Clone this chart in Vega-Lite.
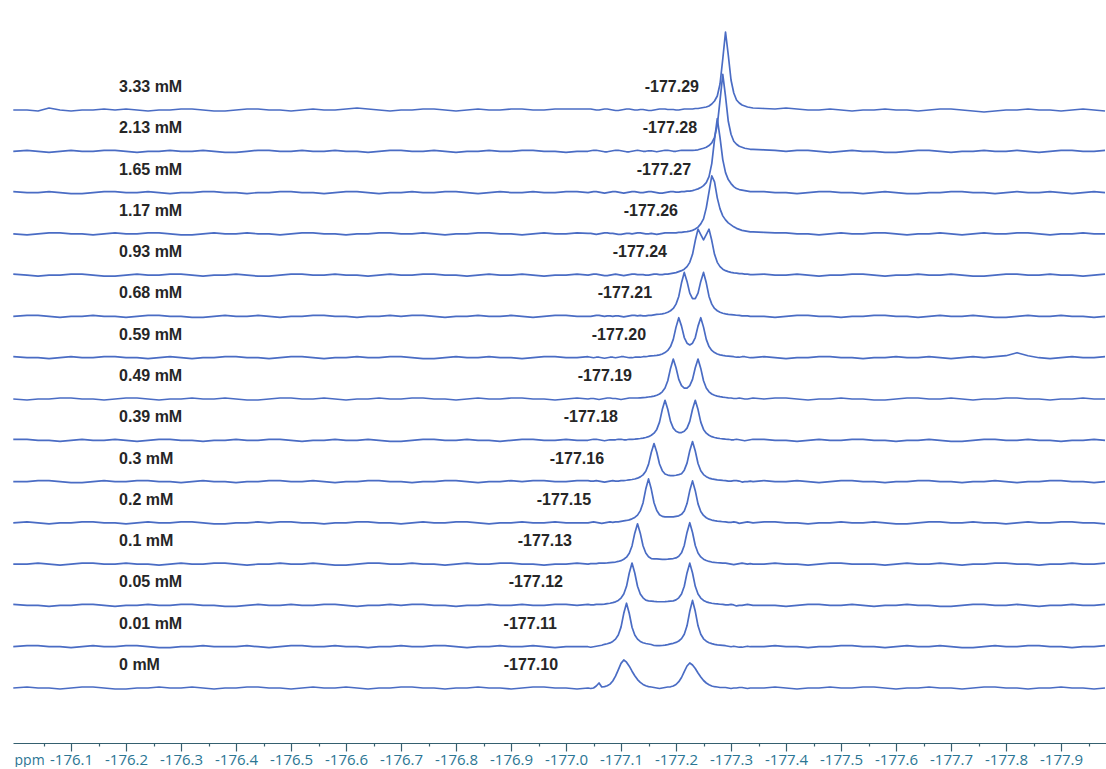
{
"$schema": "https://vega.github.io/schema/vega-lite/v6.json",
"width": 1094,
"height": 723,
"padding": {"left": 12, "top": 20, "right": 0, "bottom": 0},
"background": "#ffffff",
"config": {"view": {"stroke": null}},
"resolve": {"axis": {"x": "independent"}},
"datasets": {
"xs": [
{"i":1,"x":-175.995},{"i":2,"x":-176.02},{"i":3,"x":-176.04},{"i":4,"x":-176.06},{"i":5,"x":-176.08},{"i":6,"x":-176.1},{"i":7,"x":-176.12},{"i":8,"x":-176.14},{"i":9,"x":-176.16},{"i":10,"x":-176.18},
{"i":11,"x":-176.2},{"i":12,"x":-176.22},{"i":13,"x":-176.24},{"i":14,"x":-176.26},{"i":15,"x":-176.28},{"i":16,"x":-176.3},{"i":17,"x":-176.32},{"i":18,"x":-176.34},{"i":19,"x":-176.36},{"i":20,"x":-176.38},
{"i":21,"x":-176.4},{"i":22,"x":-176.42},{"i":23,"x":-176.44},{"i":24,"x":-176.46},{"i":25,"x":-176.48},{"i":26,"x":-176.5},{"i":27,"x":-176.52},{"i":28,"x":-176.54},{"i":29,"x":-176.56},{"i":30,"x":-176.58},
{"i":31,"x":-176.6},{"i":32,"x":-176.62},{"i":33,"x":-176.64},{"i":34,"x":-176.66},{"i":35,"x":-176.68},{"i":36,"x":-176.7},{"i":37,"x":-176.72},{"i":38,"x":-176.74},{"i":39,"x":-176.76},{"i":40,"x":-176.78},
{"i":41,"x":-176.8},{"i":42,"x":-176.82},{"i":43,"x":-176.84},{"i":44,"x":-176.86},{"i":45,"x":-176.88},{"i":46,"x":-176.9},{"i":47,"x":-176.92},{"i":48,"x":-176.94},{"i":49,"x":-176.96},{"i":50,"x":-176.98},
{"i":51,"x":-177.0},{"i":52,"x":-177.02},{"i":53,"x":-177.04},{"i":54,"x":-177.045},{"i":55,"x":-177.05},{"i":56,"x":-177.055},{"i":57,"x":-177.06},{"i":58,"x":-177.065},{"i":59,"x":-177.07},{"i":60,"x":-177.075},
{"i":61,"x":-177.08},{"i":62,"x":-177.085},{"i":63,"x":-177.09},{"i":64,"x":-177.095},{"i":65,"x":-177.1},{"i":66,"x":-177.105},{"i":67,"x":-177.11},{"i":68,"x":-177.115},{"i":69,"x":-177.12},{"i":70,"x":-177.125},
{"i":71,"x":-177.13},{"i":72,"x":-177.135},{"i":73,"x":-177.14},{"i":74,"x":-177.145},{"i":75,"x":-177.15},{"i":76,"x":-177.155},{"i":77,"x":-177.16},{"i":78,"x":-177.165},{"i":79,"x":-177.17},{"i":80,"x":-177.175},
{"i":81,"x":-177.18},{"i":82,"x":-177.185},{"i":83,"x":-177.19},{"i":84,"x":-177.195},{"i":85,"x":-177.2},{"i":86,"x":-177.205},{"i":87,"x":-177.21},{"i":88,"x":-177.215},{"i":89,"x":-177.22},{"i":90,"x":-177.225},
{"i":91,"x":-177.23},{"i":92,"x":-177.235},{"i":93,"x":-177.24},{"i":94,"x":-177.245},{"i":95,"x":-177.25},{"i":96,"x":-177.255},{"i":97,"x":-177.26},{"i":98,"x":-177.265},{"i":99,"x":-177.27},{"i":100,"x":-177.275},
{"i":101,"x":-177.28},{"i":102,"x":-177.285},{"i":103,"x":-177.29},{"i":104,"x":-177.295},{"i":105,"x":-177.3},{"i":106,"x":-177.305},{"i":107,"x":-177.31},{"i":108,"x":-177.315},{"i":109,"x":-177.32},{"i":110,"x":-177.325},
{"i":111,"x":-177.33},{"i":112,"x":-177.335},{"i":113,"x":-177.34},{"i":114,"x":-177.36},{"i":115,"x":-177.38},{"i":116,"x":-177.4},{"i":117,"x":-177.42},{"i":118,"x":-177.44},{"i":119,"x":-177.46},{"i":120,"x":-177.48},
{"i":121,"x":-177.5},{"i":122,"x":-177.52},{"i":123,"x":-177.54},{"i":124,"x":-177.56},{"i":125,"x":-177.58},{"i":126,"x":-177.6},{"i":127,"x":-177.62},{"i":128,"x":-177.64},{"i":129,"x":-177.66},{"i":130,"x":-177.68},
{"i":131,"x":-177.7},{"i":132,"x":-177.72},{"i":133,"x":-177.74},{"i":134,"x":-177.76},{"i":135,"x":-177.78},{"i":136,"x":-177.8},{"i":137,"x":-177.82},{"i":138,"x":-177.84},{"i":139,"x":-177.86},{"i":140,"x":-177.88},
{"i":141,"x":-177.9},{"i":142,"x":-177.92},{"i":143,"x":-177.94},{"i":144,"x":-177.96},{"i":145,"x":-177.98}
],
"spec": [
{"k":"c0","v":[0,0,-1,2,0,-1,0,0,1,0,1,0,-1,0,0,1,1,0,-1,-1,0,1,1,0,0,-1,0,1,0,0,1,2,1,0,-1,0,0,1,1,0,-1,0,1,0,0,1,1,0,0,1,1,1,
1,1,0.5,0,0,0.5,1,1,0.5,0,-0.5,-0.5,0,0.5,1,1,0.5,0,0,0.5,0.5,0,-0.5,-0.5,0,0.5,1,1,1,0.5,0.5,0.5,0,0,0.5,1,1,1,1,1.5,1.5,2,2.5,3,4,6,9,14,26,51,78,55,30,17,10,7,5,4,3,2.5,2,
1.5,1,2,1,0,0,1,0,-1,0,0,1,0,0,-1,0,1,1,0,-1,-2,-1,0,0,1,0,0,-1,0,1,0,-1]},
{"k":"c1","v":[0,1,0,-1,0,1,0,0,1,1,0,-1,0,0,1,0,0,1,0,-1,-1,0,1,1,0,0,1,0,0,1,0,0,-1,0,1,1,0,0,1,0,-1,0,0,1,0,0,1,1,0,0,-1,0,
0,0.5,1,1,0.5,0,-0.5,-0.5,0,0.5,1,1,0.5,0,-0.5,-0.5,0,0.5,1,0.5,0,0,0.5,0.5,0,-0.5,0,0.5,1,1,0.5,0,0,0.5,1,1,1,1,1,1.2,1.5,2.3,3,4,5.7,8.5,14,26,51,77,55,30,17,10,7,5,4,3,2.5,2,2,
1.5,1,0,1,1,0,-1,0,1,0,0,-1,-1,0,1,1,0,-1,0,0,1,0,0,1,0,-1,0,1,1,0,0,1]},
{"k":"c2","v":[1,0,0,1,0,-1,-1,0,1,1,0,0,1,0,-1,0,0,1,1,0,0,-1,0,0,1,1,0,0,-1,0,1,1,0,-1,0,0,1,0,0,1,1,0,-1,0,1,0,0,1,0,0,1,1,
0,0.5,1,1,0.5,0,-0.5,0,0.5,1,1,0.5,0,-0.5,0,0.5,1,1,0.5,0,0,0.5,1,1,0.5,0,-0.5,-0.5,0,0.5,1,1,0.5,0.5,1,1,1.5,1.5,2,2.8,3.7,5,7,10,16,29,53,74,55,33,20,13,9,6,4,3,2.5,2,1.5,1,1,
1,0,0,-1,0,1,1,0,0,-1,0,1,0,-1,-1,0,0,1,1,0,0,-1,0,1,0,0,1,0,-1,0,1,0]},
{"k":"c3","v":[0,-1,0,1,1,0,0,-1,0,1,0,0,1,1,0,-1,-1,0,1,0,0,1,0,0,-1,0,1,1,0,0,-1,0,0,1,1,0,0,1,0,-1,0,0,1,1,0,0,-1,0,1,0,0,1,
0.5,0.5,0,-0.5,0,0.5,1,1,0.5,0.5,0,-0.5,-0.5,0,0.5,0.5,0,0.5,1,1,0.5,0,0,0.5,0,-0.5,0,0.5,1,1,1,1,1,1.5,1.5,2,2.2,2.8,3.5,4.8,6.7,10,15,26,42,58,52,36,25,18,14,11,9,7,5.5,4.5,3.5,3,2.5,2,2,
1.5,1,1,0,0,-1,0,1,0,0,1,1,0,-1,0,0,1,0,-1,0,1,0,0,1,1,0,-1,0,0,1,0,0]},
{"k":"c4","v":[1,0,-1,0,0,1,1,0,-1,-1,0,1,0,0,1,1,0,-1,0,0,1,0,-1,-1,0,1,1,0,0,1,0,0,-1,0,1,0,0,1,1,0,0,-1,0,1,0,0,1,0,-1,0,0,1,
0,0.5,1,1,0.5,0,-0.5,-0.5,0,0.5,1,0.5,0,-0.5,0,0.5,1,1,0.5,0.5,0.5,0,0,0.5,1,1,0.5,0.5,1,1,1.5,2,2.5,3.5,4.5,6,8.5,12.8,20.8,34.6,46,40.5,35.2,40.5,46,34.6,20.8,12.8,8.5,6,4.5,3.5,2.8,2.3,2,1.6,1.5,1,1,0.5,0.5,
1,0,0,1,0,-1,0,0,1,1,0,-1,0,0,1,0,0,1,0,-1,-1,0,1,1,0,0,1,0,0,-1,0,1]},
{"k":"c5","v":[0,1,1,0,-1,0,0,1,0,0,-1,0,1,1,0,0,-1,-1,0,1,0,0,1,0,-1,0,0,1,1,0,0,-1,0,0,1,0,1,1,0,-1,0,0,1,0,0,1,0,-1,0,1,1,0,
0,0,0.5,1,1,0.5,0,0.5,0.5,0,0.5,0.5,0,-0.5,0,0.5,1,1,0.5,1,0.5,0.5,1,1,1.5,2,2.2,2.6,3.2,4.2,5.7,8,12.3,20,33.6,44,35,23.3,17.9,17.9,23.3,35,44,33.6,20,12.3,8,5.7,4.2,3.2,2.6,2.1,1.8,1.5,1.2,1,0.5,0.5,0.5,0,0,
0,-1,0,1,1,0,0,-1,0,0,1,1,0,0,-1,0,1,0,0,1,0,-1,-1,0,1,0,0,1,0,0,-1,0]},
{"k":"c6","v":[1,0,0,-1,0,1,0,0,1,1,0,0,-1,0,1,0,-1,0,0,1,1,0,0,-1,0,1,1,0,-1,0,0,1,0,0,1,1,0,-1,-1,0,1,0,0,1,0,0,-1,0,1,1,0,0,
1,0.5,0,0.5,0.5,0,-0.5,0,0.5,0.5,0,0.5,1,1,0.5,0,0,0.5,0.5,0.5,1,1,1.5,1.8,2,2.3,2.9,3.7,5.1,7.3,11.1,18.3,30.6,40,31.6,20.2,14.5,12.8,14.5,20.2,31.6,40,30.6,18.3,11.1,7.3,5.1,3.7,2.9,2.3,1.9,1.6,1.3,1,0.5,0.5,1,1,0.5,0,0,
1,0,-1,0,0,1,1,0,0,-1,0,0,1,0,0,1,0,-1,0,1,0,1,2,5,2,0,-1,0,1,0,0,1]},
{"k":"c7","v":[0,-1,0,0,1,1,0,0,-1,0,1,1,0,-1,0,0,1,0,0,1,0,-1,-1,0,1,1,0,0,1,0,-1,0,0,1,0,0,1,1,0,0,-1,0,1,0,0,1,1,0,0,-1,0,1,
0,0.5,0.5,0,-0.5,0,0.5,1,1,0.5,0.5,0,-0.5,0,0.5,1,1,1,1,1.2,1.4,1.6,2,2.3,2.9,3.7,5,7.2,11,18.2,30.6,40,31.3,19.6,13.3,10.9,10.9,13.3,19.6,31.3,40,30.6,18.2,11,7.2,5,3.7,2.9,2.3,1.8,1.5,1.2,1,0.5,0.5,1,0.5,0,0,0.5,1,
0,1,1,0,-1,0,0,1,0,0,-1,-1,0,1,1,0,0,1,0,-1,0,0,1,1,0,0,-1,0,0,1,0,0]},
{"k":"c8","v":[1,1,0,0,-1,0,1,0,0,1,0,-1,0,1,1,0,0,-1,0,0,1,0,0,1,1,0,-1,0,0,1,0,0,1,0,-1,-1,0,1,1,0,0,1,0,0,-1,0,1,1,0,0,1,0,
0,0.5,1,1,0.5,0,-0.5,0,0.5,0.5,0.5,1,1,0.5,0.5,1,1,1.2,1.5,1.8,2.2,2.8,3.6,5,7.1,10.9,18.2,30.7,40,31,18.9,12.2,9,7.7,7.7,9,12.2,18.9,31,40,30.7,18.2,10.9,7.1,5,3.6,2.8,2.2,1.8,1.5,1.2,1,0.5,0.5,1,0.5,0,-0.5,0,0.5,1,
1,0,0,-1,0,1,0,0,1,1,0,0,-1,0,0,1,0,-1,-1,0,1,1,0,0,1,0,0,-1,0,0,1,0]},
{"k":"c9","v":[0,0,1,1,0,-1,-1,0,1,0,0,1,1,0,0,-1,0,1,0,0,-1,0,0,1,1,0,0,1,0,-1,0,0,1,1,0,0,-1,0,0,1,1,0,-1,0,0,1,0,1,1,0,0,1,
1,0.5,0.5,1,0.5,0,-0.5,0,0.5,1,0.5,0.5,1,1,1.3,1.7,2.1,2.6,3.4,4.7,6.7,10.3,17.2,29.1,38,29.3,17.6,10.9,7.5,6.5,6,6,6.3,7,7.8,11.4,18.4,30.8,40,30.6,18.1,10.8,7,4.9,3.5,2.7,2.2,1.7,1.5,1.2,1,0.5,0.5,1,1,0.5,-0.5,0,0,0.5,0,
1,0,0,1,0,-1,0,1,1,0,0,-1,0,0,1,1,0,0,-1,0,0,1,0,-1,0,0,1,1,0,0,-1,0]},
{"k":"c10","v":[0,1,0,-1,0,0,1,1,0,0,-1,0,1,0,0,1,1,0,-1,-1,0,0,1,0,1,1,0,0,-1,0,0,1,1,0,0,-1,0,1,0,0,1,1,0,-1,0,0,1,0,0,1,0,0,
0,0.5,1,0.5,0,-0.5,0,0.5,1,0.5,1,1,1.5,2,2.4,3,4,5.4,7.7,12,19.9,33.8,44,33.8,20.1,12.3,8.2,6.5,6,6,6,6,6.5,7,8.5,11.8,19.3,32.3,42,32.2,19,11.4,7.4,5.1,3.7,2.8,2.2,1.7,1.4,1.1,1,0.5,0.5,1,0.5,-0.5,0,0.5,1,0.5,0,
1,1,0,0,-1,0,0,1,0,0,1,0,-1,-1,0,1,1,0,0,1,0,0,-1,0,1,0,0,1,1,0,0,-1]},
{"k":"c11","v":[0,0,1,0,-1,0,1,1,0,0,1,0,0,-1,0,1,0,0,1,1,0,-1,0,0,1,0,0,1,0,-1,-1,0,1,1,0,0,1,0,0,-1,0,1,0,0,1,1,0,0,-1,0,0,1,
0,0.5,0.5,0.5,1,1,1,1.2,1.5,1.8,2.1,2.7,3.5,4.9,7,10.9,18.2,31,40.3,31,18.4,11.1,7.3,5.6,5.2,5.2,5,4.8,4.8,5,5.3,5.6,6.2,7.8,11.3,18.7,31.7,41.4,31.6,18.6,11.1,7.2,5,3.6,2.7,2.1,1.7,1.4,1.2,1,1,0.5,0,-0.5,0,0.5,1,0.5,0,0.5,0,
0,1,0,0,-1,0,1,1,0,0,0,-1,0,1,0,0,1,0,-1,0,0,1,1,0,0,-1,0,0,1,0,0,1]},
{"k":"c12","v":[1,0,0,-1,0,0,1,1,0,-1,0,0,1,0,0,1,1,0,0,-1,-1,0,1,0,0,1,0,0,1,1,0,-1,0,0,1,0,1,1,0,0,-1,0,0,1,0,0,1,0,0,1,1,0,
1,0.5,0.5,1,1,1,1.3,1.8,2.2,2.8,3.6,5,7.4,11.4,19.1,32.4,42.4,32.4,19.2,11.5,7.6,5.3,4.6,4.3,4,3.8,3.7,3.7,3.8,4,4.3,4.6,5.5,7.6,11.5,19.2,32.5,42.3,32.4,19.1,11.4,7.4,5,3.6,2.8,2.2,1.8,1.5,1.2,1,0.5,0.5,1,0.5,-0.5,0,0,0.5,1,0.5,0,
0,0,-1,0,1,1,0,0,1,0,-1,0,0,1,0,0,-1,-1,0,1,1,0,0,1,0,-1,0,0,1,0,0,1]},
{"k":"c13","v":[0,1,1,0,0,-1,0,1,0,0,1,1,0,-1,-1,0,0,1,0,0,0,1,0,-1,0,1,1,0,0,1,0,0,-1,0,0,1,0,0,1,1,0,-1,0,0,1,0,0,1,0,-1,0,0,
0,-0.5,0,0.5,1,1.5,2.4,3,3.8,5.3,7.6,11.8,19.6,33.4,43.5,33.2,19.5,11.7,7.6,5.3,4,3.2,2.7,2.2,1.2,1,1,1.2,1.6,2.1,2.8,3.4,4.3,5.7,8.1,12.5,20.9,35.4,46.3,35.4,20.9,12.4,7.9,5.5,4,3.1,2.4,1.9,1.6,1.3,1,0.5,0,0.5,0,-0.5,-0.5,0,0.5,0,0,
0,1,0,0,-1,0,0,1,1,0,0,-1,0,1,0,0,1,0,-1,-1,0,1,0,0,1,1,0,0,-1,0,0,1]},
{"k":"c14","v":[0,1,0,0,-1,0,1,1,0,-1,-1,0,0,1,0,0,1,0,-1,0,0,1,1,0,0,-1,0,1,0,0,1,0,-1,0,0,1,1,0,0,-1,0,0,1,0,0,-1,0,1,1,0,0,-1,
0,-0.5,0,2,5,1,1.4,2.2,3.9,7,11.8,18.2,24.6,28,25.8,21.8,16.8,12.3,8.4,5.6,3.6,2.2,1.4,1,0.5,0,-0.5,0,0.5,1,1.2,2,3.5,6.3,10.5,16.3,22,25,23,19.5,15,11,7.5,5,3.3,2,1.3,1,0.5,0.5,0.5,0,-0.5,0,0,0.5,0.5,0,-0.5,0,0,
0,1,0,-1,0,0,1,0,0,1,1,0,-1,0,0,1,0,0,-1,0,1,1,0,0,-1,0,0,1,0,0,-1,0]}
],
"labels": [
{"k":"c0","conc":"3.33 mM","shift":"-177.29","lx":-177.2418},
{"k":"c1","conc":"2.13 mM","shift":"-177.28","lx":-177.2382},
{"k":"c2","conc":"1.65 mM","shift":"-177.27","lx":-177.2273},
{"k":"c3","conc":"1.17 mM","shift":"-177.26","lx":-177.2036},
{"k":"c4","conc":"0.93 mM","shift":"-177.24","lx":-177.1836},
{"k":"c5","conc":"0.68 mM","shift":"-177.21","lx":-177.1564},
{"k":"c6","conc":"0.59 mM","shift":"-177.20","lx":-177.1455},
{"k":"c7","conc":"0.49 mM","shift":"-177.19","lx":-177.12},
{"k":"c8","conc":"0.39 mM","shift":"-177.18","lx":-177.0945},
{"k":"c9","conc":"0.3 mM","shift":"-177.16","lx":-177.0691},
{"k":"c10","conc":"0.2 mM","shift":"-177.15","lx":-177.0455},
{"k":"c11","conc":"0.1 mM","shift":"-177.13","lx":-177.0109},
{"k":"c12","conc":"0.05 mM","shift":"-177.12","lx":-176.9945},
{"k":"c13","conc":"0.01 mM","shift":"-177.11","lx":-176.9836},
{"k":"c14","conc":"0 mM","shift":"-177.10","lx":-176.9855}
]
},
"layer": [
{
"data": {"name": "spec"},
"transform": [
{"flatten": ["v"]},
{"window": [{"op": "row_number", "as": "i"}], "groupby": ["k"]},
{"lookup": "i", "from": {"data": {"name": "xs"}, "key": "i", "fields": ["x"]}}
],
"mark": {"type": "line", "color": "#4a6cc4", "strokeWidth": 1.7, "strokeJoin": "round"},
"encoding": {
"x": {"field": "x", "type": "quantitative",
"scale": {"domain": [-177.9836, -175.9945], "reverse": true, "nice": false, "zero": false},
"axis": {
"orient": "bottom",
"values": [-176.1,-176.2,-176.3,-176.4,-176.5,-176.6,-176.7,-176.8,-176.9,-177.0,-177.1,-177.2,-177.3,-177.4,-177.5,-177.6,-177.7,-177.8,-177.9],
"labelExpr": "'-' + format(-datum.value, '.1f')",
"tickSize": 8,
"grid": false,
"domainColor": "#35606f", "tickColor": "#35606f", "domainWidth": 1.2, "tickWidth": 1.2,
"labelColor": "#2b7593", "labelFont": "Open Sans", "labelFontSize": 15, "labelPadding": 1,
"labelOverlap": false, "labelFlush": false, "labelBound": false,
"title": "ppm", "titleFont": "Open Sans", "titleFontSize": 14, "titleFontWeight": "normal", "titleColor": "#2b7593",
"titleX": 1, "titleY": 17, "titleAlign": "left", "titleBaseline": "middle", "titleAnchor": "start"
}},
"y": {"field": "k", "type": "ordinal",
"scale": {"type": "point", "domain": ["c0","c1","c2","c3","c4","c5","c6","c7","c8","c9","c10","c11","c12","c13","c14"], "range": [90, 668], "padding": 0},
"axis": null},
"yOffset": {"field": "v", "type": "quantitative", "scale": {"domain": [0, 100], "range": [0, -100], "zero": false, "nice": false}},
"detail": {"field": "k"},
"order": {"field": "i", "type": "quantitative"}
}
},
{
"data": {"name": "labels"},
"mark": {"type": "text", "align": "left", "baseline": "middle", "dy": -23, "font": "Liberation Sans", "fontWeight": "bold", "fontSize": 16, "color": "#262626"},
"encoding": {
"x": {"datum": -176.1873, "type": "quantitative", "axis": null},
"y": {"field": "k", "type": "ordinal", "scale": {"type": "point", "domain": ["c0","c1","c2","c3","c4","c5","c6","c7","c8","c9","c10","c11","c12","c13","c14"], "range": [90, 668], "padding": 0}, "axis": null},
"text": {"field": "conc"}
}
},
{
"data": {"name": "labels"},
"mark": {"type": "text", "align": "right", "baseline": "middle", "dy": -23, "font": "Liberation Sans", "fontWeight": "bold", "fontSize": 16, "color": "#262626"},
"encoding": {
"x": {"field": "lx", "type": "quantitative",
"axis": {
"orient": "bottom",
"values": [-176.05,-176.15,-176.25,-176.35,-176.45,-176.55,-176.65,-176.75,-176.85,-176.95,-177.05,-177.15,-177.25,-177.35,-177.45,-177.55,-177.65,-177.75,-177.85,-177.95],
"labels": false, "domain": false, "grid": false, "title": null,
"tickSize": 3, "tickColor": "#35606f", "tickWidth": 1.2
}},
"y": {"field": "k", "type": "ordinal", "scale": {"type": "point", "domain": ["c0","c1","c2","c3","c4","c5","c6","c7","c8","c9","c10","c11","c12","c13","c14"], "range": [90, 668], "padding": 0}, "axis": null},
"text": {"field": "shift"}
}
}
]
}
